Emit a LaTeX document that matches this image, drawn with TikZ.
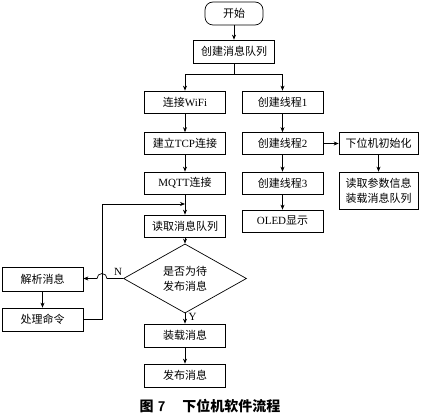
\documentclass[tikz,border=0pt]{standalone}
\usepackage{fontspec}
\setmainfont{Liberation Serif}
\newfontfamily\cjk{Noto Sans CJK SC}
\usetikzlibrary{positioning,arrows.meta,shapes.geometric}
\newcommand{\en}[1]{{\rmfamily #1}}

\begin{document}
\begin{tikzpicture}[x=1pt,y=1pt,
  every node/.style={font=\cjk\fontsize{11}{15}\selectfont},
  box/.style={draw,line width=0.7pt,minimum width=81pt,minimum height=22pt,inner sep=0pt,align=center},
  arr/.style={-{Stealth[length=5pt,width=4pt]},line width=0.7pt},
  conn/.style={line width=0.7pt}]
\useasboundingbox (0,0) rectangle (422,415);
% main column
\node[box,rounded corners=8pt,minimum width=58pt,minimum height=23pt] (start) at (234,401.5) {开始};
\node[box,minimum height=23pt] (queue) at (234,363.5) {创建消息队列};
\node[box] (wifi) at (185,313) {连接\en{WiFi}};
\node[box] (tcp) at (185,271.5) {建立\en{TCP}连接};
\node[box] (mqtt) at (185,232) {\en{MQTT}连接};
\node[box] (read) at (185,189) {读取消息队列};
\node[draw,diamond,line width=0.7pt,minimum width=123pt,minimum height=47pt,inner sep=0pt,align=center] (check) at (185,136.5) {是否为待\\发布消息};
\node[box,minimum height=23pt] (load) at (185,79.5) {装载消息};
\node[box,minimum height=23pt] (pub) at (185,39.5) {发布消息};
% thread column
\node[box] (t1) at (282.5,313) {创建线程\en{1}};
\node[box] (t2) at (282.5,271.5) {创建线程\en{2}};
\node[box] (t3) at (282.5,232) {创建线程\en{3}};
\node[box] (oled) at (282.5,194) {\en{OLED}显示};
\node[box,minimum width=79pt] (init) at (378.5,271.5) {下位机初始化};
\node[box,minimum width=79pt,minimum height=37pt] (param) at (378.5,224.5) {读取参数信息\\装载消息队列};
% command handling
\node[box,minimum height=24pt] (parse) at (42.5,136) {解析消息};
\node[box,minimum height=23pt] (handle) at (42.5,95.5) {处理命令};
% connectors
\coordinate (split) at (234,341);
\draw[arr] (start) -- (queue);
\draw[conn] (queue) -- (split);
\draw[arr] (split) -| (wifi);
\draw[arr] (split) -| (t1);
\draw[arr] (wifi) -- (tcp);
\draw[arr] (tcp) -- (mqtt);
\draw[arr] (mqtt) -- (read);
\draw[arr] (read) -- (check);
\draw[arr] (check) -- node[right,font=\rmfamily\fontsize{11}{13}\selectfont,pos=0.3] {Y} (load);
\draw[arr] (load) -- (pub);
\draw[arr] (t1) -- (t2);
\draw[arr] (t2) -- (t3);
\draw[arr] (t3) -- (oled);
\draw[arr] (t2) -- (init);
\draw[arr] (init) -- (param);
\draw[arr] (check.west) -- (107,136.5) arc (0:180:5) -- (parse.east |- 0,136.5);
\node[font=\rmfamily\fontsize{11}{13}\selectfont] (no) at (118,143) {N};
\draw[arr] (parse) -- (handle);
\coordinate (merge) at (185,211);
\draw[arr] (handle.east) -- (102,95.5) -- (102,211) -- (merge);
% caption
\node[font=\cjk\bfseries\fontsize{14}{16}\selectfont,inner sep=1pt] (cap) at (210,9) {图\hspace{0.3em}{\sffamily\bfseries 7}\hspace{1.2em}下位机软件流程};
\end{tikzpicture}
\end{document}
